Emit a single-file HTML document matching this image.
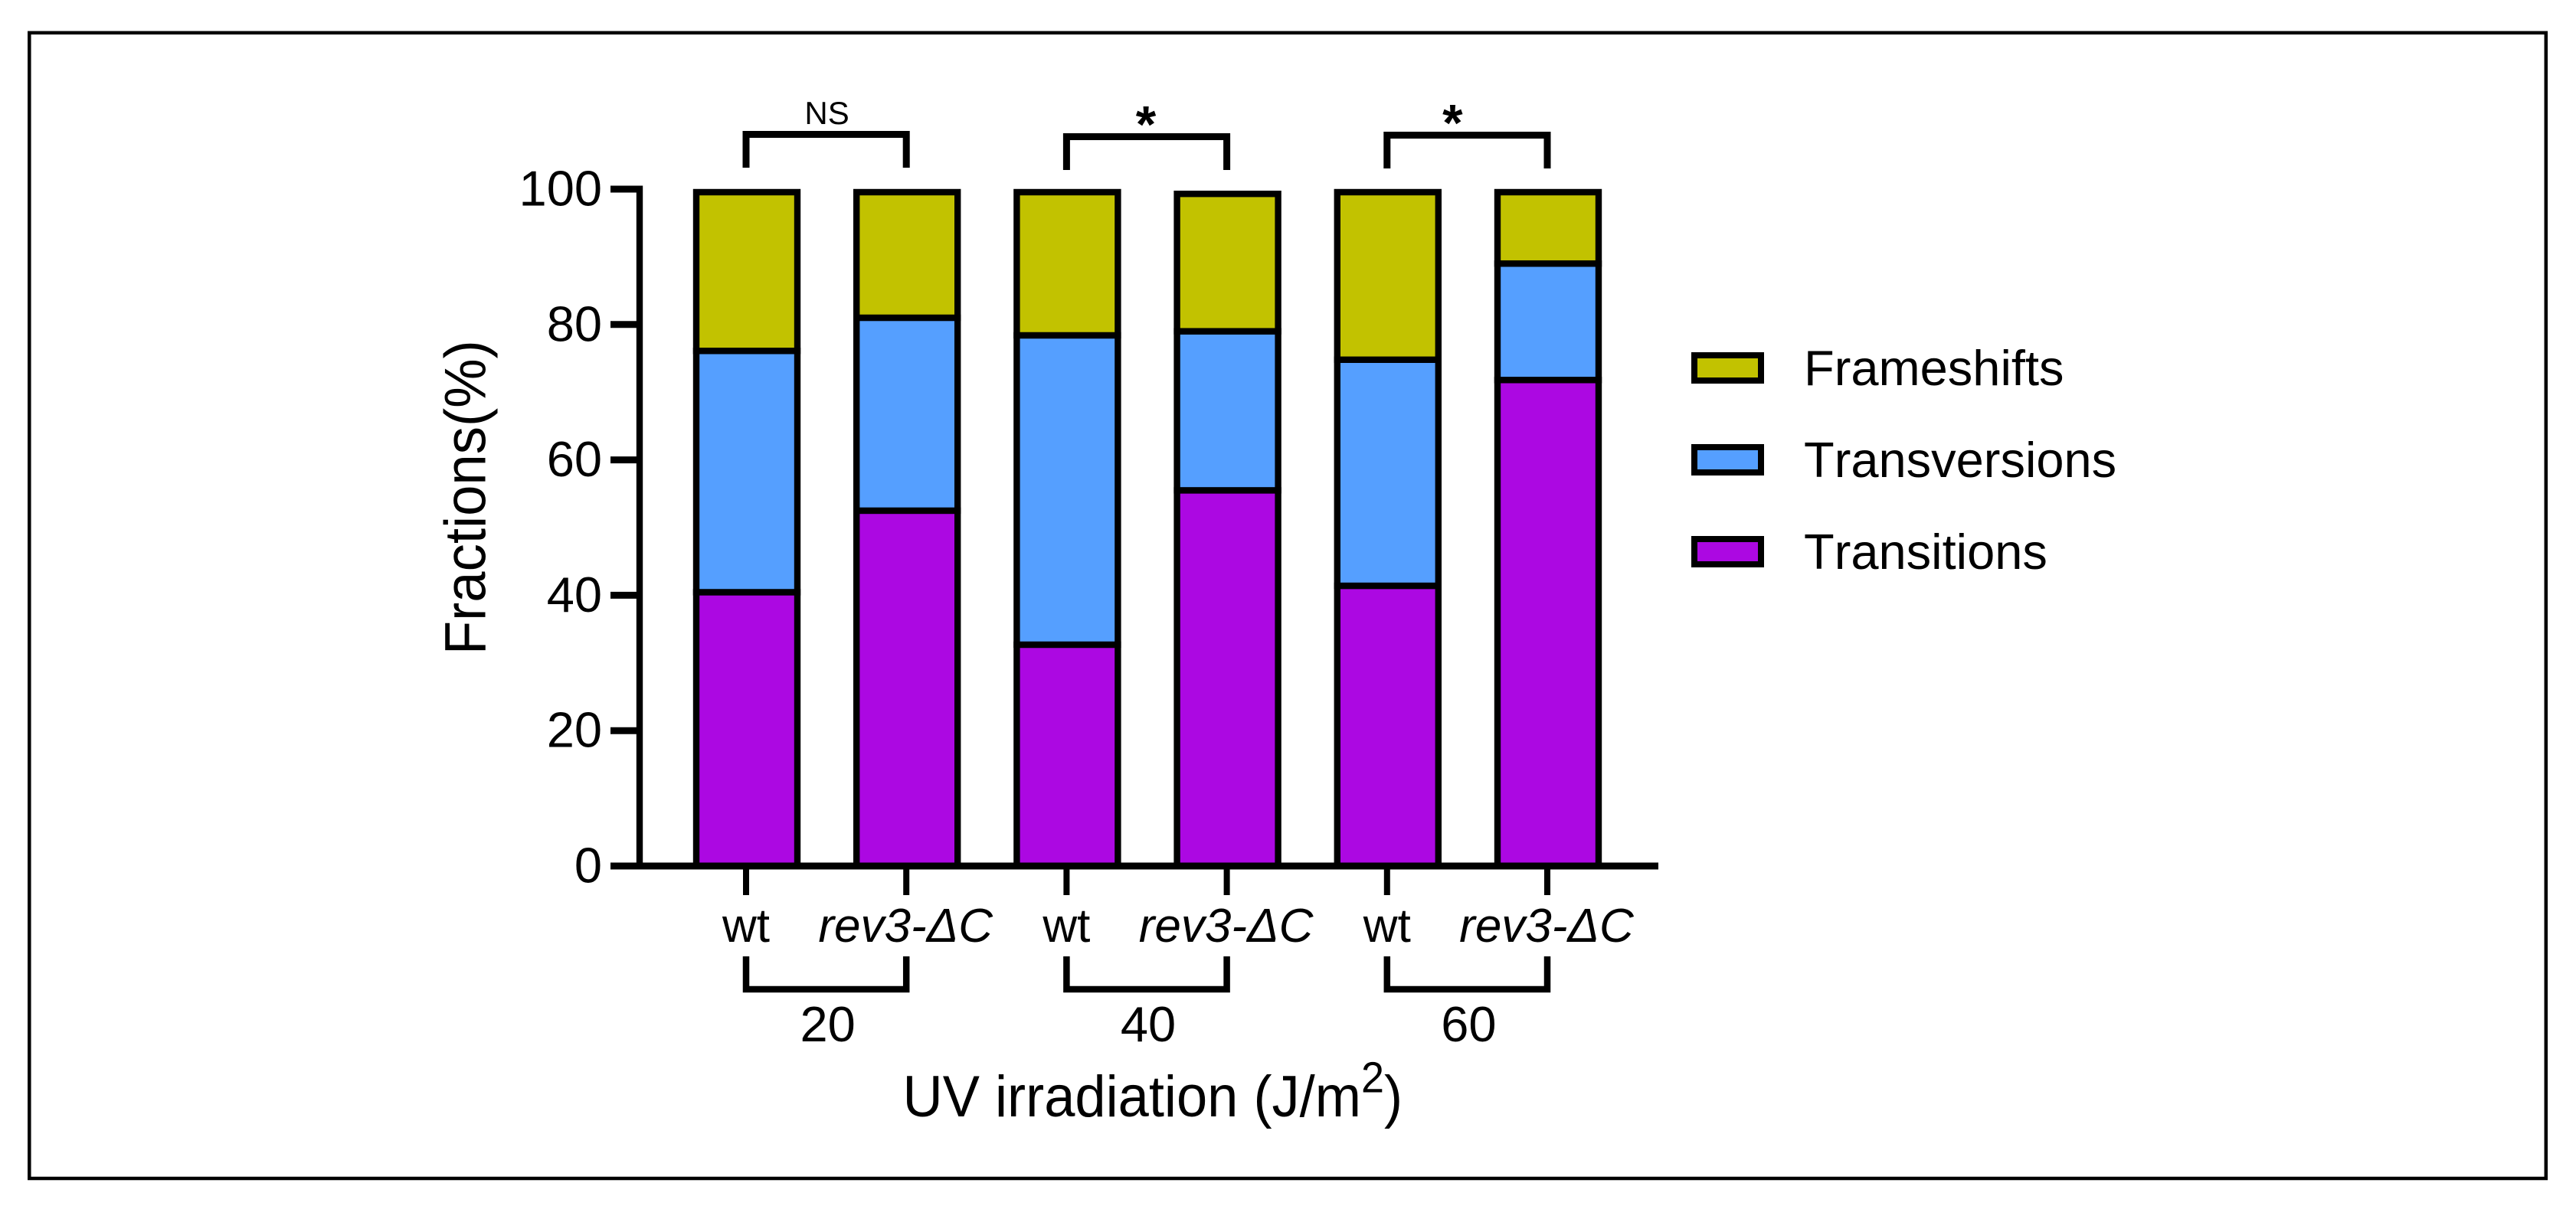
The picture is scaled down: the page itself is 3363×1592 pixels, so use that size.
<!DOCTYPE html>
<html lang="en">
<head>
<meta charset="utf-8">
<title>Mutation fractions after UV irradiation</title>
<style>
  html, body { margin: 0; padding: 0; background: #fff; }
  body { width: 3363px; height: 1592px; overflow: hidden; }
  svg { display: block; }
  text { font-family: "Liberation Sans", Arial, sans-serif; fill: #000; font-kerning: none; }
</style>
</head>
<body>
<svg id="chart" xmlns="http://www.w3.org/2000/svg" width="3363" height="1592" viewBox="0 0 3363 1592">
  <rect x="38.3" y="42.8" width="3285.5" height="1496.2" fill="#fff" stroke="#000" stroke-width="4.5"/>
  <g id="bars"></g>
  <g id="axes"></g>
  <g id="annotations"></g>
  <g id="legend"></g>
  <text transform="translate(633.5,649.7) rotate(-90) scale(1,1.05)" text-anchor="middle" font-size="72.5">Fractions(%)</text>
  <text transform="translate(1178.5,1458) scale(1,1.05)" x="0" y="0" font-size="72.3">UV irradiation (J/m<tspan dy="-30" font-size="54">2</tspan><tspan dy="30">)</tspan></text>
</svg>
<script>
// ---- chart data ----
const categories = ["wt", "rev3-ΔC", "wt", "rev3-ΔC", "wt", "rev3-ΔC"];
const doses = ["20", "40", "60"];
const significance = ["NS", "*", "*"];
const seriesNames = ["Transitions", "Transversions", "Frameshifts"];
const transitions = [40.45, 52.5, 32.7, 55.5, 41.4, 71.8];
const transversions = [35.65, 28.5, 45.7, 23.5, 33.4, 17.2];
const frameshifts = [23.45, 18.55, 21.15, 20.3, 24.75, 10.55];
const yTicks = [0, 20, 40, 60, 80, 100];

const SVG_NS = "http://www.w3.org/2000/svg";
const seriesColors = ["#AC08E2", "#559FFF", "#C2C200"];
const seriesValues = [transitions, transversions, frameshifts];

// ---- axis functions ----
const yScale = v => 1131 - v * 8.84;
const xScale = i => 975 + i * 209.2;

function make(tag, attrs, parent) {
  const el = document.createElementNS(SVG_NS, tag);
  for (const k in attrs) el.setAttribute(k, attrs[k]);
  parent.appendChild(el);
  return el;
}

const barsG = document.getElementById("bars");
const axesG = document.getElementById("axes");
const annG = document.getElementById("annotations");
const legendG = document.getElementById("legend");

// ---- stacked bars ----
const STROKE = 8.4;
categories.forEach((cat, i) => {
  let cum = 0;
  seriesValues.forEach((vals, s) => {
    const y0 = yScale(cum);
    cum += vals[i];
    const y1 = yScale(cum);
    const r = make("rect", {
      x: xScale(i) - 66,
      y: y1,
      width: 132,
      height: y0 - y1,
      fill: seriesColors[s],
      stroke: "#000",
      "stroke-width": STROKE
    }, barsG);
    
    
  });
});

// ---- y axis ----
const yLine = make("path", {
  d: "M835 " + (yScale(100) - 4.5) + "V" + (yScale(0) + 4.5),
  stroke: "#000", "stroke-width": 8.4, fill: "none"
}, axesG);



yTicks.forEach(t => {
  const tick = make("path", {
    d: "M797 " + yScale(t) + "H835",
    stroke: "#000", "stroke-width": 9, fill: "none"
  }, axesG);
  
  
  const label = make("text", {
    x: 786, y: yScale(t) + 21.5, "text-anchor": "end", "font-size": 65
  }, axesG);
  label.textContent = String(t);
  
  
});

// ---- x axis ----
const xLine = make("path", {
  d: "M797 " + yScale(0) + "H2165",
  stroke: "#000", "stroke-width": 9, fill: "none"
}, axesG);



categories.forEach((cat, i) => {
  const x = xScale(i) - 1;
  const tick = make("path", {
    d: "M" + x + " " + yScale(0) + "V1169",
    stroke: "#000", "stroke-width": 8, fill: "none"
  }, axesG);
  
  
  const italic = cat !== "wt";
  const label = make("text", {
    x: italic ? x - 1 : x,
    y: 1230,
    "text-anchor": "middle",
    "font-size": 62,
    "font-style": italic ? "italic" : "normal"
  }, axesG);
  label.textContent = cat;
  
  
});

// ---- dose group brackets and labels ----
doses.forEach((dose, g) => {
  const a = xScale(g * 2) - 1;
  const b = xScale(g * 2 + 1) - 1;
  const br = make("path", {
    d: "M" + a + " 1249V1292H" + b + "V1249",
    stroke: "#000", "stroke-width": 8.5, fill: "none"
  }, axesG);
  
  
  const label = make("text", {
    x: (a + b) / 2 + 2, y: 1360, "text-anchor": "middle", "font-size": 65
  }, axesG);
  label.textContent = dose;
  
  
});

// ---- significance brackets ----
const bracketTop = [175.5, 178.5, 176.5];
const sigLabelShift = [1, -1, -19];
significance.forEach((sig, g) => {
  const a = xScale(g * 2) - 1;
  const b = xScale(g * 2 + 1) - 1;
  const top = bracketTop[g];
  const br = make("path", {
    d: "M" + a + " " + (top + 43.5) + "V" + top + "H" + b + "V" + (top + 43.5),
    stroke: "#000", "stroke-width": 9, fill: "none"
  }, annG);
  
  
  const isStar = sig === "*";
  const label = make("text", {
    x: (a + b) / 2 + sigLabelShift[g],
    y: isStar ? top + 7 : 162,
    "text-anchor": "middle",
    "font-size": isStar ? 68 : 42,
    "font-weight": isStar ? "bold" : "normal"
  }, annG);
  label.textContent = sig;
  
  
});

// ---- legend (top to bottom: reverse of stack order) ----
[2, 1, 0].forEach((s, row) => {
  const y = 464 + row * 120;
  const sw = make("rect", {
    x: 2212, y: y, width: 87, height: 33,
    fill: seriesColors[s], stroke: "#000", "stroke-width": 8
  }, legendG);
  
  
  const label = make("text", { x: 2355, y: y + 39, "font-size": 65 }, legendG);
  label.textContent = seriesNames[s];
  
  
});
</script>
</body>
</html>
